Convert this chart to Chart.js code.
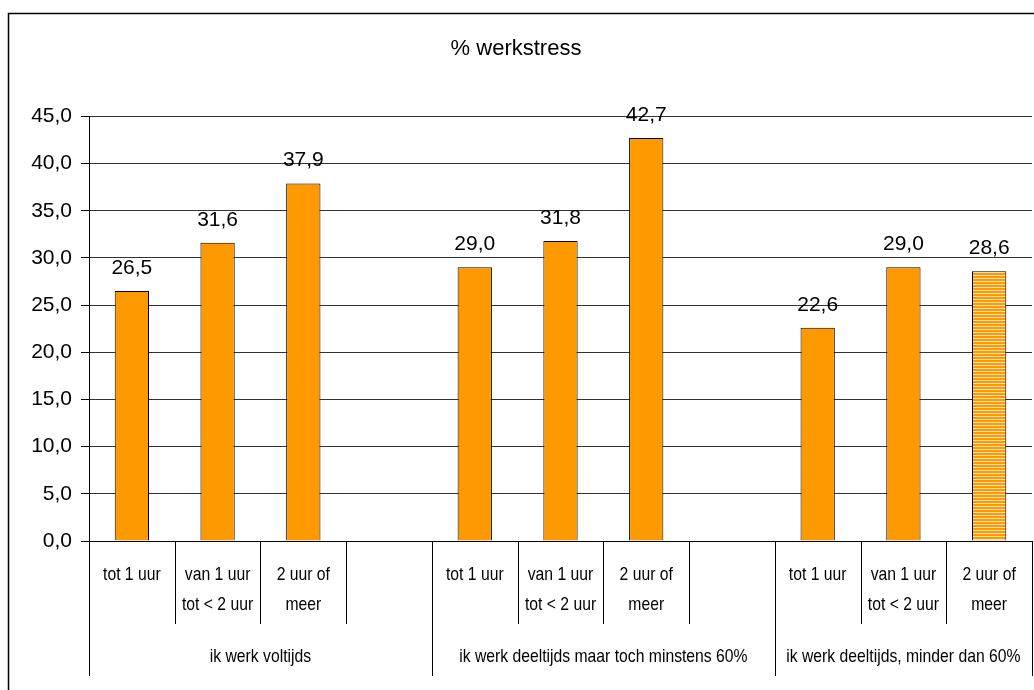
<!DOCTYPE html>
<html>
<head>
<meta charset="utf-8">
<title>% werkstress</title>
<style>
  html, body { margin: 0; padding: 0; overflow: hidden; background: #fff; }
  #chart-container { width: 1058px; height: 690px; }
</style>
</head>
<body>
<div id="chart-container">
  <canvas id="mycanvas" width="1058" height="690"></canvas>
</div>
<script src="https://cdn.jsdelivr.net/npm/chart.js@4/dist/chart.umd.min.js"></script>
<script>
// chart data
var categories = [
  'tot 1 uur', ['van 1 uur', 'tot < 2 uur'], ['2 uur of', 'meer'], '',
  'tot 1 uur', ['van 1 uur', 'tot < 2 uur'], ['2 uur of', 'meer'], '',
  'tot 1 uur', ['van 1 uur', 'tot < 2 uur'], ['2 uur of', 'meer']
];
var groups = ['ik werk voltijds', 'ik werk deeltijds maar toch minstens 60%', 'ik werk deeltijds, minder dan 60%'];
var groupSizes = [4, 4, 3];
var values = [26.5, 31.6, 37.9, null, 29.0, 31.8, 42.7, null, 22.6, 29.0, 28.6];
var yMin = 0, yMax = 45, yStep = 5;

var FONT = "'Liberation Sans', Arial, sans-serif";

function fmt(v) {
  return Number(v).toFixed(1).replace('.', ',');
}

// condensed text (no narrow font installed, so squeeze horizontally)
function narrowText(ctx, text, x, y) {
  ctx.save();
  ctx.translate(x, y);
  ctx.scale(0.85, 1);
  ctx.fillText(text, 0, 0);
  ctx.restore();
}

// striped fill for the last bar
var pc = document.createElement('canvas');
pc.width = 4; pc.height = 3;
var pctx = pc.getContext('2d');
pctx.fillStyle = '#FF9900';
pctx.fillRect(0, 0, 4, 2);
pctx.fillStyle = '#FFE3B8';
pctx.fillRect(0, 2, 4, 1);
var stripes = pctx.createPattern(pc, 'repeat');

var frame = {
  id: 'frame',
  beforeDraw: function(chart) {
    var ctx = chart.ctx;
    ctx.save();
    ctx.strokeStyle = '#000';
    ctx.lineWidth = 1.5;
    ctx.strokeRect(8.5, 13.5, 1042, 700);
    ctx.restore();
  }
};

var extras = {
  id: 'extras',
  afterDraw: function(chart) {
    var ctx = chart.ctx;
    var x = chart.scales.x;
    var n = categories.length;
    var edges = [];
    for (var i = 0; i <= n; i++) {
      if (i === 0) edges.push(x.left);
      else if (i === n) edges.push(x.right);
      else edges.push((x.getPixelForValue(i - 1) + x.getPixelForValue(i)) / 2);
    }
    var groupEdges = [0];
    var acc = 0;
    groupSizes.forEach(function(s) { acc += s; groupEdges.push(acc); });

    ctx.save();
    ctx.strokeStyle = '#000';
    ctx.lineWidth = 1;
    var top = x.top;
    for (var j = 0; j <= n; j++) {
      var isGroup = groupEdges.indexOf(j) >= 0;
      var px = Math.round(edges[j]) + 0.5;
      ctx.beginPath();
      ctx.moveTo(px, top);
      ctx.lineTo(px, isGroup ? top + 135 : top + 83);
      ctx.stroke();
    }

    ctx.fillStyle = '#000';
    ctx.textAlign = 'center';
    ctx.textBaseline = 'middle';

    // category labels
    ctx.font = '18.5px ' + FONT;
    for (var c = 0; c < n; c++) {
      var lines = [].concat(categories[c]);
      var cx0 = x.getPixelForValue(c);
      lines.forEach(function(t, li) {
        if (t) narrowText(ctx, t, cx0, top + 34 + li * 30);
      });
    }

    // group labels
    for (var g = 0; g < groups.length; g++) {
      var cx = (edges[groupEdges[g]] + edges[groupEdges[g + 1]]) / 2;
      narrowText(ctx, groups[g], cx, top + 116);
    }

    // data labels
    ctx.font = '21px ' + FONT;
    var meta = chart.getDatasetMeta(0);
    meta.data.forEach(function(bar, k) {
      if (values[k] === null) return;
      ctx.fillText(fmt(values[k]), bar.x, bar.y - 23);
    });
    ctx.restore();
  }
};

var ctx = document.getElementById('mycanvas');
var barGraph = new Chart(ctx, {
  type: 'bar',
  data: {
    labels: categories,
    datasets: [{
      label: '% werkstress',
      data: values,
      backgroundColor: function(c) {
        return c.dataIndex === values.length - 1 ? stripes : '#FF9900';
      },
      borderColor: '#000',
      borderWidth: 1,
      barPercentage: 0.4,
      categoryPercentage: 1.0
    }]
  },
  options: {
    responsive: false,
    animation: false,
    layout: { padding: { left: 0, right: 26, top: 0, bottom: 0 } },
    plugins: {
      legend: { display: false },
      tooltip: { enabled: false },
      title: {
        display: true,
        text: '% werkstress',
        color: '#000',
        font: { family: FONT, size: 22, weight: 'normal' },
        padding: { top: 36, bottom: 54 }
      }
    },
    scales: {
      x: {
        offset: true,
        grid: { display: false, drawTicks: false },
        border: { display: true, color: '#000', width: 1 },
        ticks: { display: false },
        afterFit: function(scale) { scale.height = 149; }
      },
      y: {
        min: yMin,
        max: yMax,
        grid: { color: '#333', lineWidth: 1, tickLength: 8, tickColor: '#000' },
        border: { display: true, color: '#000', width: 1 },
        ticks: {
          stepSize: yStep,
          color: '#000',
          padding: 9,
          font: { family: FONT, size: 21 },
          callback: function(v) { return fmt(v); }
        },
        afterFit: function(scale) { scale.width = 89; }
      }
    }
  },
  plugins: [frame, extras]
});
</script>
</body>
</html>
